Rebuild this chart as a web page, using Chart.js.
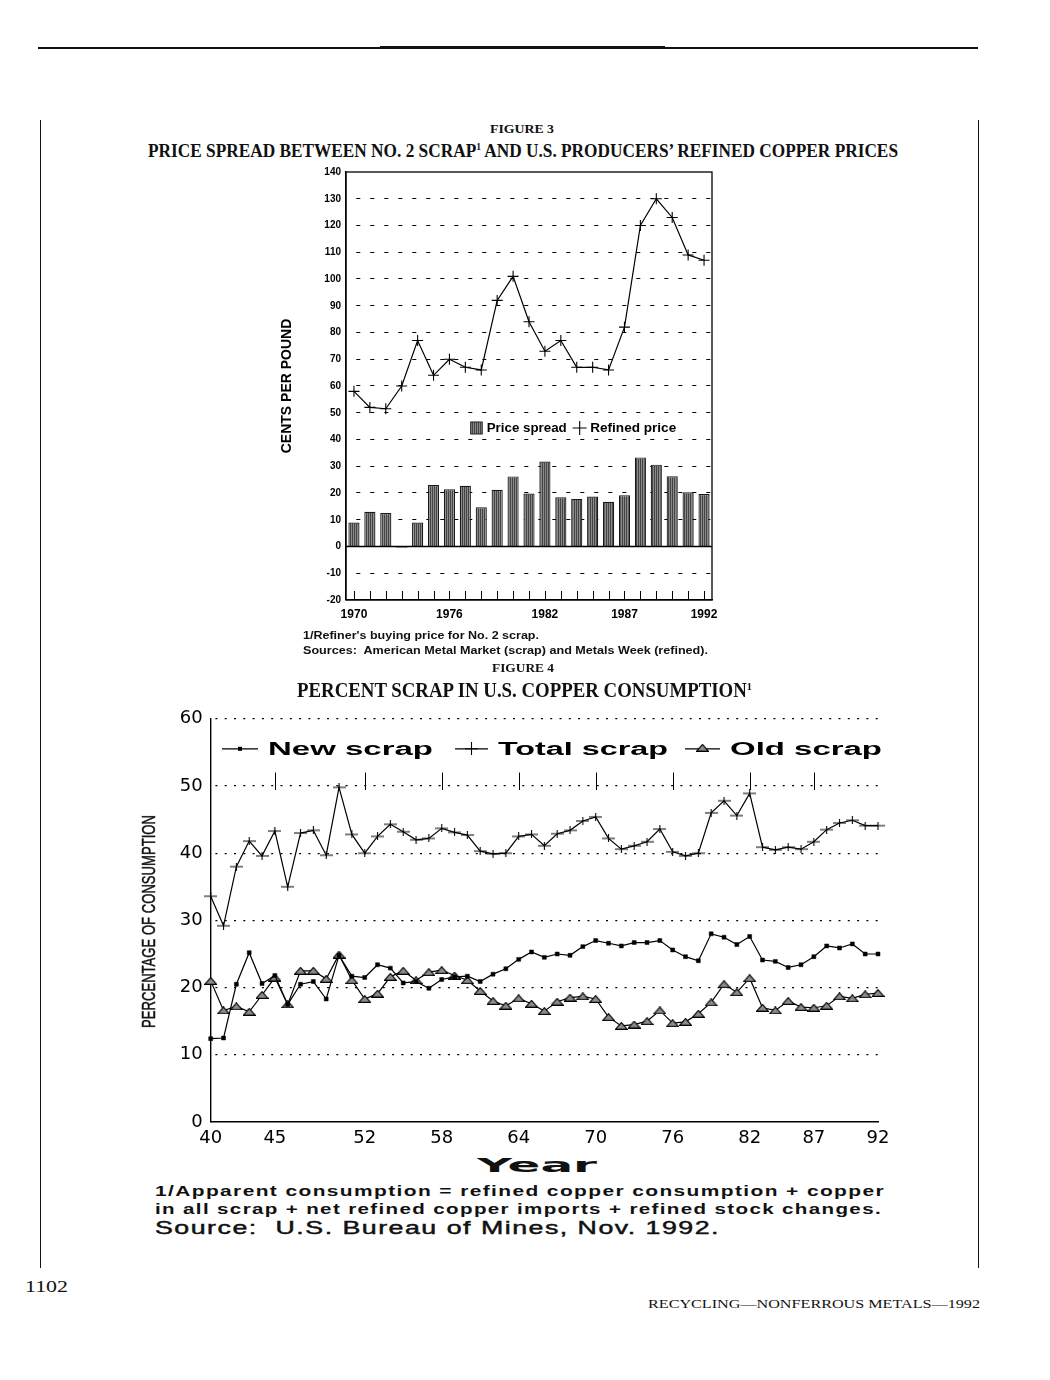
<!DOCTYPE html>
<html><head><meta charset="utf-8">
<script src="https://cdn.jsdelivr.net/npm/chart.js@4.4.1/dist/chart.umd.min.js"></script>
<style>
html,body{margin:0;padding:0;background:#fff;}
#page{position:relative;width:1050px;height:1380px;overflow:hidden;background:#fff;}
.t{position:absolute;left:0;top:0;white-space:nowrap;line-height:1;color:#111;}
.serif{font-family:"Liberation Serif","Times New Roman",serif;}
.sans{font-family:"Liberation Sans",Arial,sans-serif;}
.b{font-weight:bold;}
.sup{font-size:0.55em;vertical-align:0.65em;line-height:0;}
.ln{position:absolute;background:#111;}
canvas{position:absolute;}
</style></head>
<body><div id="page">
<div class="ln" style="left:38px;top:47px;width:940px;height:1.5px;"></div>
<div class="ln" style="left:380px;top:46px;width:285px;height:3px;"></div>
<div class="ln" style="left:40px;top:120px;width:1.3px;height:1148px;"></div>
<div class="ln" style="left:978px;top:120px;width:1.3px;height:1148px;"></div>

<div class="t serif b" data-cx="522" data-cy="128" data-w="64" style="font-size:13px;">FIGURE 3</div>
<div class="t serif b" data-cx="523" data-cy="150" data-w="750" style="font-size:19px;">PRICE SPREAD BETWEEN NO. 2 SCRAP<span class="sup">1</span> AND U.S. PRODUCERS’ REFINED COPPER PRICES</div>

<canvas id="fig3" width="460" height="470" style="left:270px;top:160px;width:460px;height:470px;"></canvas>

<div class="t sans b" data-l="303" data-cy="635" data-w="236" style="font-size:11px;">1/Refiner's buying price for No. 2 scrap.</div>
<div class="t sans b" data-l="303" data-cy="650" data-w="405" style="font-size:11px;">Sources:&nbsp; American Metal Market (scrap) and Metals Week (refined).</div>
<div class="t serif b" data-cx="523" data-cy="667" data-w="62" style="font-size:13px;">FIGURE 4</div>
<div class="t serif b" data-cx="524" data-cy="690" data-w="455" style="font-size:20px;">PERCENT SCRAP IN U.S. COPPER CONSUMPTION<span class="sup">1</span></div>

<canvas id="fig4" width="780" height="450" style="left:120px;top:700px;width:780px;height:450px;"></canvas>

<div class="t sans" data-rot="1" data-cx="148" data-cy="921" data-w="213" style="font-size:19px;-webkit-text-stroke:0.5px #111;">PERCENTAGE OF CONSUMPTION</div>
<div class="t b" data-cx="537" data-cy="1165" data-w="120" style="font-family:'DejaVu Sans';font-size:20px;">Year</div>
<div class="t sans b" data-l="155" data-cy="1190" data-w="730" style="font-size:15px;letter-spacing:1px;">1/Apparent consumption = refined copper consumption + copper</div>
<div class="t sans b" data-l="155" data-cy="1208" data-w="727" style="font-size:15px;letter-spacing:1px;">in all scrap + net refined copper imports + refined stock changes.</div>
<div class="t sans" data-l="155" data-cy="1228" data-w="565" style="font-size:18px;letter-spacing:1px;-webkit-text-stroke:0.45px #111;">Source:&nbsp; U.S. Bureau of Mines, Nov. 1992.</div>
<div class="t serif" data-l="25" data-cy="1287" data-w="43" style="font-size:16px;">1102</div>
<div class="t serif" data-r="980" data-cy="1303" data-w="332" style="font-size:13px;">RECYCLING—NONFERROUS METALS—1992</div>
</div>

<script>
// ---------------- Figure 3 data ----------------
const years3 = ['1970','1971','1972','1973','1974','1975','1976','1977','1978','1979','1980','1981','1982','1983','1984','1985','1986','1987','1988','1989','1990','1991','1992'];
const priceSpread = [9,13,12.5,-0.5,9,23,21.4,22.7,14.7,21.2,26.2,19.8,31.8,18.4,17.8,18.7,16.7,19.2,33.3,30.6,26.3,20.3,19.6];
const refinedPrice = [58,52,51.5,60,77,64,70,67,66,92,101,84,73,77,67,67,66,82,120,130,123,109,107];
const xTickLabels3 = ['1970','1976','1982','1987','1992'];
const yTicks3 = [-20,-10,0,10,20,30,40,50,60,70,80,90,100,110,120,130,140];

// ---------------- Figure 4 data ----------------
const years4 = ['1940','1941','1942','1943','1944','1945','1946','1947','1948','1949',
  '1950','1951','1952','1953','1954','1955','1956','1957','1958','1959',
  '1960','1961','1962','1963','1964','1965','1966','1967','1968','1969',
  '1970','1971','1972','1973','1974','1975','1976','1977','1978','1979',
  '1980','1981','1982','1983','1984','1985','1986','1987','1988','1989',
  '1990','1991','1992'];
const newScrap = [12.4,12.5,20.5,25.2,20.6,21.8,17.5,20.5,20.9,18.3,
  24.8,21.7,21.5,23.4,22.9,20.7,20.9,19.9,21.2,21.6,
  21.7,20.9,22.0,22.8,24.2,25.3,24.5,25.0,24.8,26.1,
  27.0,26.6,26.2,26.7,26.7,27.0,25.6,24.6,24.0,28.0,
  27.5,26.4,27.6,24.1,23.9,23.0,23.4,24.6,26.2,25.9,
  26.5,25.0,25.0];
const totalScrap = [33.6,29.2,38.0,41.8,39.6,43.3,35.0,43.0,43.4,39.7,
  49.8,42.8,40.0,42.5,44.3,43.2,42.0,42.2,43.7,43.1,
  42.7,40.3,39.9,40.0,42.5,42.8,41.1,42.9,43.4,44.8,
  45.4,42.2,40.6,41.1,41.7,43.6,40.2,39.6,40.0,46.0,
  47.8,45.6,48.9,40.9,40.5,40.9,40.6,41.7,43.5,44.5,
  44.9,44.1,44.1];
const oldScrap = [21.0,16.6,17.2,16.4,18.9,21.5,17.5,22.5,22.5,21.3,
  24.9,21.1,18.3,19.1,21.6,22.5,21.1,22.3,22.6,21.8,
  21.1,19.5,18.0,17.3,18.4,17.6,16.5,17.9,18.5,18.7,
  18.3,15.6,14.3,14.5,15.0,16.6,14.7,14.9,16.1,17.8,
  20.5,19.3,21.4,17.0,16.6,18.0,17.1,17.0,17.3,18.7,
  18.4,19.0,19.2];
const xTickLabels4 = ['40','45','52','58','64','70','76','82','87','92'];
const yTicks4 = [0,10,20,30,40,50,60];
const seriesNames4 = ['New scrap','Total scrap','Old scrap'];

// ---------------- text layout ----------------
function layoutTexts(){
  document.querySelectorAll('.t').forEach(el=>{
    el.style.transform='none';
    const r = el.getBoundingClientRect();
    const w = el.dataset.w ? +el.dataset.w : r.width;
    const s = w / r.width;
    if (el.dataset.rot){
      el.style.transformOrigin = '50% 50%';
      el.style.left = (+el.dataset.cx - r.width/2) + 'px';
      el.style.top = (+el.dataset.cy - r.height/2) + 'px';
      el.style.transform = 'rotate(-90deg) scaleX(' + s + ')';
      return;
    }
    el.style.transformOrigin = '0 50%';
    el.style.transform = 'scaleX(' + s + ')';
    let left;
    if (el.dataset.cx !== undefined) left = +el.dataset.cx - w/2;
    else if (el.dataset.r !== undefined) left = +el.dataset.r - w;
    else left = +el.dataset.l;
    el.style.left = left + 'px';
    el.style.top = (+el.dataset.cy - r.height/2) + 'px';
  });
}
layoutTexts();
if (document.fonts && document.fonts.ready) document.fonts.ready.then(layoutTexts);

// ---------------- helpers ----------------
function makeHatch(ctx){
  const c = document.createElement('canvas'); c.width = 2; c.height = 2;
  const g = c.getContext('2d');
  g.fillStyle = '#8a8a8a'; g.fillRect(0,0,2,2);
  g.fillStyle = '#444444'; g.fillRect(0,0,1,2);
  return ctx.createPattern(c,'repeat');
}
function crossImg(w,h,lw){
  const c = document.createElement('canvas'); c.width = w; c.height = h;
  const g = c.getContext('2d'); g.strokeStyle = '#000'; g.lineWidth = lw;
  g.beginPath(); g.moveTo(0,h/2); g.lineTo(w,h/2); g.moveTo(w/2,0); g.lineTo(w/2,h); g.stroke();
  return c;
}
function triImg(w,h){
  const c = document.createElement('canvas'); c.width = w; c.height = h;
  const g = c.getContext('2d');
  g.beginPath(); g.moveTo(0.6,h-0.6); g.lineTo(w/2,0.6); g.lineTo(w-0.6,h-0.6); g.closePath();
  g.fillStyle = '#8c8c8c'; g.fill(); g.strokeStyle = '#000'; g.lineWidth = 1.1; g.stroke();
  return c;
}
function fitText(ctx, text, x, yc, width, font){
  ctx.save();
  ctx.font = font;
  const w0 = ctx.measureText(text).width;
  ctx.translate(x, yc);
  ctx.scale(width / w0, 1);
  ctx.textBaseline = 'middle'; ctx.textAlign = 'left'; ctx.fillStyle = '#000';
  ctx.fillText(text, 0, 0);
  ctx.restore();
}

// ---------------- Figure 3 ----------------
const c3 = document.getElementById('fig3');
const ctx3 = c3.getContext('2d');
const hatch = makeHatch(ctx3);

const fig3Deco = {
  id: 'fig3Deco',
  afterDatasetsDraw(chart){
    const {ctx, chartArea: a, scales: {x, y}} = chart;
    ctx.save();
    ctx.strokeStyle = '#000';
    ctx.lineWidth = 1.3;
    ctx.strokeRect(a.left, a.top, a.right - a.left, a.bottom - a.top);
    const y0 = y.getPixelForValue(0);
    ctx.beginPath(); ctx.moveTo(a.left, y0); ctx.lineTo(a.right, y0); ctx.stroke();
    ctx.lineWidth = 1;
    ctx.beginPath();
    for (let i = 0; i < x.ticks.length; i++){
      const px = Math.round(x.getPixelForTick(i)) + 0.5;
      ctx.moveTo(px, a.bottom); ctx.lineTo(px, a.bottom - 9);
    }
    ctx.stroke();
    // legend
    const lx = a.left + 124.7, ly = a.top + 256;
    ctx.fillStyle = hatch; ctx.fillRect(lx, ly - 6, 11.5, 12);
    ctx.strokeStyle = '#222'; ctx.strokeRect(lx, ly - 6, 11.5, 12);
    fitText(ctx, 'Price spread', lx + 16, ly + 0.5, 80, 'bold 13px "Liberation Sans"');
    ctx.strokeStyle = '#000'; ctx.lineWidth = 1.1;
    ctx.beginPath(); ctx.moveTo(lx + 102, ly); ctx.lineTo(lx + 116, ly);
    ctx.moveTo(lx + 109, ly - 7); ctx.lineTo(lx + 109, ly + 7); ctx.stroke();
    fitText(ctx, 'Refined price', lx + 119.5, ly + 0.5, 86, 'bold 13px "Liberation Sans"');
    ctx.restore();
  }
};

new Chart(ctx3, {
  data: {
    labels: years3,
    datasets: [
      {type: 'line', label: 'Refined price', data: refinedPrice, borderColor: '#000', borderWidth: 1.2,
       tension: 0, fill: false, pointStyle: 'cross', pointRadius: 5.5, pointBorderWidth: 1.1,
       pointBorderColor: '#000', pointHoverRadius: 5.5, order: 0},
      {type: 'bar', label: 'Price spread', data: priceSpread, backgroundColor: hatch, borderColor: '#1a1a1a',
       borderWidth: 1.2, barPercentage: 0.7, categoryPercentage: 1, order: 1}
    ]
  },
  options: {
    responsive: false, animation: false, devicePixelRatio: 1,
    layout: {padding: {top: 12, right: 18, left: 0, bottom: 0}},
    plugins: {legend: {display: false}, tooltip: {enabled: false}},
    scales: {
      x: {
        type: 'category', offset: true,
        grid: {display: false, drawTicks: false},
        border: {display: true, color: '#000', width: 1.3},
        ticks: {autoSkip: false, maxRotation: 0, padding: 7, color: '#000',
          font: {family: '"Liberation Sans"', size: 12, weight: 'bold'},
          callback(v, i){ return xTickLabels3.includes(years3[i]) ? years3[i] : ''; }},
        afterFit(s){ s.height = 30; }
      },
      y: {
        min: -20, max: 140,
        afterBuildTicks(s){ s.ticks = yTicks3.map(v => ({value: v})); },
        grid: {drawTicks: false, lineWidth: 1.1,
          color(c){ const v = c.tick && c.tick.value; return (v === -20 || v === 0 || v === 140) ? 'rgba(0,0,0,0)' : '#000'; }},
        border: {display: true, color: '#000', width: 1.3, dash: [4, 10], dashOffset: 4},
        ticks: {padding: 5, color: '#000', font: {family: '"Liberation Sans"', size: 10, weight: 'bold'}},
        title: {display: true, text: 'CENTS PER POUND', color: '#000',
          font: {family: '"Liberation Sans"', size: 14, weight: 'bold'}, padding: {top: 8.6, bottom: 0}},
        afterFit(s){ s.width = 76; }
      }
    }
  },
  plugins: [fig3Deco]
});

// ---------------- Figure 4 ----------------
const c4 = document.getElementById('fig4');
const ctx4 = c4.getContext('2d');
const totalCross = crossImg(13, 8, 1.1);
const legendCross = crossImg(13, 13, 1.1);
const oldTri = triImg(13, 8);

const fig4Deco = {
  id: 'fig4Deco',
  afterDatasetsDraw(chart){
    const {ctx, chartArea: a, scales: {x, y}} = chart;
    ctx.save();
    ctx.strokeStyle = '#000'; ctx.lineWidth = 1;
    // short vertical marks across the 50 line at labelled years
    const yA = y.getPixelForValue(52), yB = y.getPixelForValue(49.4);
    ctx.beginPath();
    years4.forEach((yr, i) => {
      const l = yr.slice(2);
      if (xTickLabels4.includes(l) && l !== '40' && l !== '92'){
        const px = Math.round(x.getPixelForValue(i)) + 0.5;
        ctx.moveTo(px, yA); ctx.lineTo(px, yB);
      }
    });
    ctx.stroke();
    // legend
    const ly = a.top + 30;
    ctx.lineWidth = 1.2;
    const items = [
      {x0: 11.3, x1: 47.3, tx: 57.3, tw: 165},
      {x0: 244.3, x1: 277.3, tx: 287.3, tw: 170},
      {x0: 474.3, x1: 509.3, tx: 519.3, tw: 152}
    ];
    items.forEach((it, k) => {
      const x0 = a.left + it.x0, x1 = a.left + it.x1, xm = (x0 + x1) / 2;
      ctx.beginPath(); ctx.moveTo(x0, ly); ctx.lineTo(x1, ly); ctx.stroke();
      if (k === 0){ ctx.fillStyle = '#000'; ctx.fillRect(xm - 2, ly - 2, 4, 4); }
      if (k === 1){ ctx.drawImage(legendCross, xm - 6.5, ly - 6.5); }
      if (k === 2){ ctx.drawImage(oldTri, xm - 6.5, ly - 5); }
      fitText(ctx, seriesNames4[k], a.left + it.tx, ly + 1, it.tw, 'bold 18px "Liberation Sans"');
    });
    ctx.restore();
  }
};

new Chart(ctx4, {
  type: 'line',
  data: {
    labels: years4,
    datasets: [
      {label: seriesNames4[0], data: newScrap, borderColor: '#000', borderWidth: 1.2, tension: 0,
       pointStyle: 'rect', pointRadius: 2.8, pointBackgroundColor: '#000', pointBorderColor: '#000', pointBorderWidth: 0.5},
      {label: seriesNames4[1], data: totalScrap, borderColor: '#000', borderWidth: 1.2, tension: 0,
       pointStyle: totalCross, pointRadius: 6},
      {label: seriesNames4[2], data: oldScrap, borderColor: '#000', borderWidth: 1.2, tension: 0,
       pointStyle: oldTri, pointRadius: 6}
    ]
  },
  options: {
    responsive: false, animation: false, devicePixelRatio: 1,
    layout: {padding: {top: 17, right: 22, left: 0, bottom: 0}},
    plugins: {legend: {display: false}, tooltip: {enabled: false}},
    scales: {
      x: {
        type: 'category', offset: false,
        grid: {display: false, drawTicks: false},
        border: {display: true, color: '#000', width: 1.4},
        ticks: {autoSkip: false, maxRotation: 0, padding: 6, color: '#000',
          font: {family: '"DejaVu Sans"', size: 18},
          callback(v, i){ const l = years4[i].slice(2); return xTickLabels4.includes(l) ? l : ''; }},
        afterFit(s){ s.height = 28; }
      },
      y: {
        min: 0, max: 60,
        afterBuildTicks(s){ s.ticks = yTicks4.map(v => ({value: v})); },
        grid: {drawTicks: false, lineWidth: 1.3,
          color(c){ return (c.tick && c.tick.value === 0) ? 'rgba(0,0,0,0)' : '#000'; }},
        border: {display: true, color: '#000', width: 1.4, dash: [2, 7.3], dashOffset: -4},
        ticks: {padding: 8, color: '#000', font: {family: '"DejaVu Sans"', size: 18}},
        afterFit(s){ s.width = 90.7; }
      }
    }
  },
  plugins: [fig4Deco]
});
</script>
</body></html>
